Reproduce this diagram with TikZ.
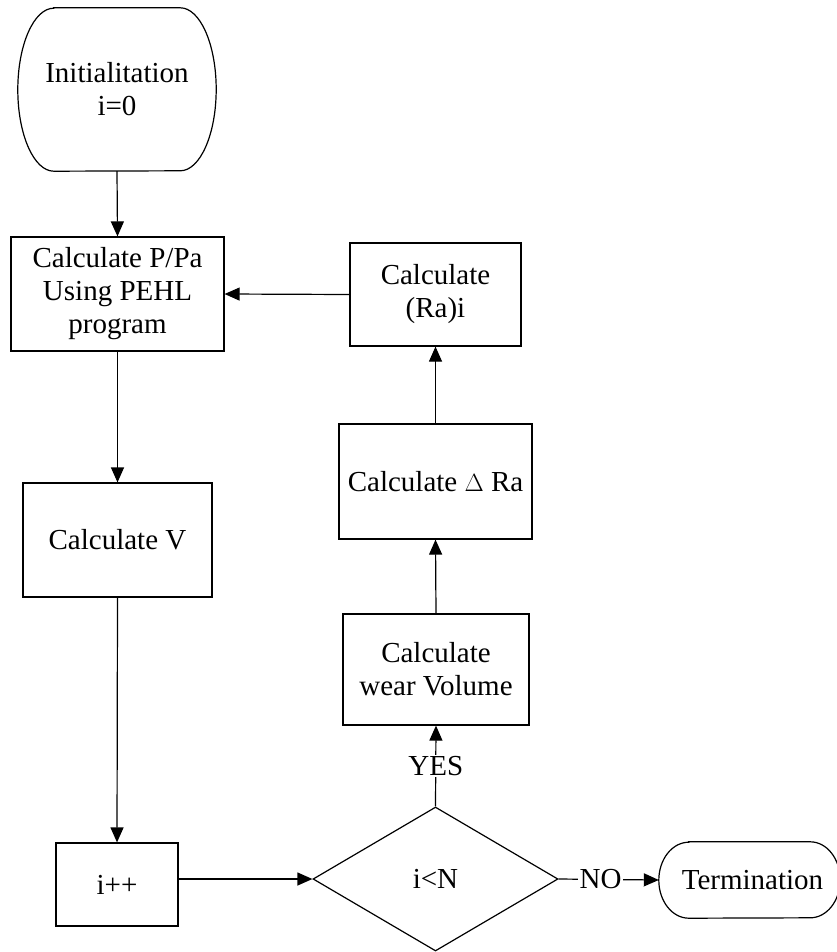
\documentclass[tikz,border=0pt]{standalone}
\usepackage{fontspec}
\setmainfont{Liberation Serif}
\usetikzlibrary{shapes.geometric,arrows.meta}
\tikzset{
  box/.style={draw=black, line width=1.2pt, align=center, inner sep=0pt},
  ghost/.style={draw=none, align=center, inner sep=0pt},
  conn/.style={line width=1.2pt, -{Triangle[length=15pt,width=13pt]}},
  lab/.style={fill=white, inner sep=1.5pt},
}
\begin{document}
\begin{tikzpicture}[x=1pt,y=-1pt,font=\fontsize{29}{33}\selectfont]
\useasboundingbox (0,0) rectangle (837,952);
% start terminator
\node[ghost, minimum width=198pt, minimum height=163pt] (init) at (117,89.5) {Initialitation\\i=0};
\draw[line width=1.2pt] ([xshift=36pt]init.north west) -- ([xshift=-36pt]init.north east)
  arc[start angle=90,end angle=-90,x radius=36pt,y radius=81.5pt]
  -- ([xshift=36pt]init.south west)
  arc[start angle=270,end angle=90,x radius=36pt,y radius=81.5pt] -- cycle;
% boxes
\node[box, minimum width=213pt, minimum height=114pt] (pp) at (117.5,294) {Calculate P/Pa\\Using PEHL\\program};
\node[box, minimum width=171pt, minimum height=103pt] (ra) at (435.5,294.5) {Calculate\\(Ra)i};
\node[box, minimum width=193pt, minimum height=115pt] (dra) at (435.5,481.5) {Calculate $\Delta$ Ra};
\node[box, minimum width=186pt, minimum height=111pt] (wv) at (436,669.5) {Calculate\\wear Volume};
\node[box, minimum width=189pt, minimum height=114pt] (cv) at (117.5,540) {Calculate V};
\node[box, minimum width=122pt, minimum height=83pt] (ipp) at (117,884.5) {i++};
\node[draw, line width=1.2pt, diamond, inner sep=0pt, minimum width=245pt, minimum height=144pt] (dia) at (435.5,879) {i<N};
% end terminator
\node[ghost, minimum width=181pt, minimum height=76pt] (term) at (749.5,880) {\hspace*{6pt}Termination};
\draw[line width=1.2pt] ([xshift=30pt]term.north west) -- ([xshift=-30pt]term.north east)
  arc[start angle=90,end angle=-90,x radius=30pt,y radius=38pt]
  -- ([xshift=30pt]term.south west)
  arc[start angle=270,end angle=90,x radius=30pt,y radius=38pt] -- cycle;
% connectors
\draw[conn] (init.south) -- (pp.north);
\draw[conn] (ra.west) -- (pp.east);
\draw[conn] (pp.south) -- (cv.north);
\draw[conn] (cv.south) -- (ipp.north);
\draw[conn] (ipp.east |- dia.west) -- (dia.west);
\draw[conn] (dia.north) -- node[lab] {YES} (wv.south);
\draw[conn] (wv.north) -- (dra.south);
\draw[conn] (dra.north) -- (ra.south);
\draw[conn] (dia.east) -- node[lab, pos=0.42] {NO} (term.west);
\end{tikzpicture}
\end{document}
